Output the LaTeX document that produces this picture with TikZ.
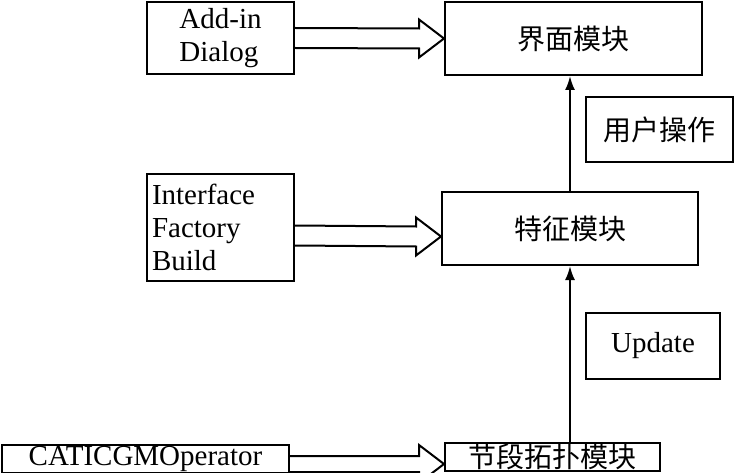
\documentclass[tikz,border=0pt]{standalone}
\usepackage{fontspec}
\setmainfont{Liberation Serif}
\newfontfamily\cjk{Noto Sans CJK SC}
\usetikzlibrary{arrows.meta,calc}

% hollow block arrow: [shaft half width]{from}{to}
\newcommand{\hollowarrow}[3][10]{%
  \draw[line join=miter]
    ($(#2)+(0,-#1)$) -- ($(#3)+(-25,-#1)$) -- ($(#3)+(-25,-19)$) -- (#3)
    -- ($(#3)+(-25,19)$) -- ($(#3)+(-25,#1)$) -- ($(#2)+(0,#1)$);}

\begin{document}
\begin{tikzpicture}[x=1pt, y=-1pt, line width=2pt,
  box/.style={draw, inner sep=0pt, font=\fontsize{29}{33}\selectfont},
  cbox/.style={box, font=\cjk\fontsize{28}{32}\selectfont}]
  \useasboundingbox (0,0) rectangle (735,473);
  \node[box, minimum width=147pt, minimum height=72pt, align=left] (addin) at (220.5,38) {Add-in\\Dialog};
  \node[cbox, minimum width=257pt, minimum height=73pt] (ui) at (573.5,38.5) {界面模块};
  \node[cbox, minimum width=147pt, minimum height=65pt] (userop) at (659.5,129.5) {用户操作};
  \node[box, minimum width=147pt, minimum height=107pt, align=left, text width=137pt] (factory) at (220.5,227.5) {Interface\\Factory\\Build};
  \node[cbox, minimum width=256pt, minimum height=73pt] (feature) at (570,228.5) {特征模块};
  \node[box, minimum width=134pt, minimum height=66pt] (update) at (653,346) {Update};
  \node[box, minimum width=287pt, minimum height=28pt] (catic) at (145.5,459) {CATICGMOperator};
  \node[cbox, minimum width=215pt, minimum height=28pt] (topo) at (552.5,457) {节段拓扑模块};
  \coordinate (f1) at ([yshift=-8pt]factory.east);
  \coordinate (f2) at ([yshift=-8pt]feature.west);
  \coordinate (c1) at ([yshift=-5pt]catic.east);
  \coordinate (c2) at (topo.west |- c1);
  % block arrows
  \hollowarrow{addin.east}{ui.west}
  \hollowarrow{f1}{f2}
  \hollowarrow[8]{c1}{c2}
  % data flow
  \draw[-{Latex[length=14pt,width=10pt]}] (feature.north) -- (feature.north |- ui.south);
  \draw[-{Latex[length=14pt,width=10pt]}] (feature.south |- topo.north) -- (feature.south);
\end{tikzpicture}
\end{document}
